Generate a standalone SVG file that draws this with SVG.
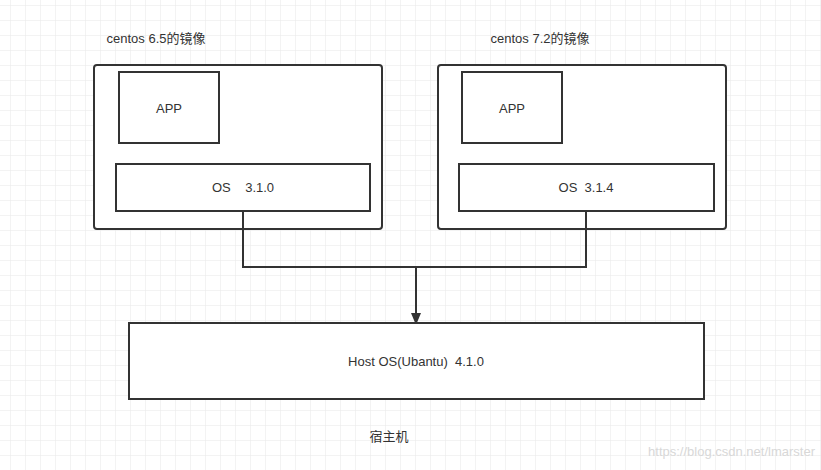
<svg xmlns="http://www.w3.org/2000/svg" width="821" height="470" viewBox="0 0 821 470">
<defs>
<pattern id="grid" x="10" y="5" width="15" height="15" patternUnits="userSpaceOnUse">
<path d="M0 0H15M0 0V15" fill="none" stroke="#e8e8e8" stroke-width="1"/>
</pattern>
<marker id="arr" viewBox="0 0 10 12" refX="9" refY="5" markerWidth="12" markerHeight="12" markerUnits="userSpaceOnUse" orient="auto">
<path d="M0 0L12 5L0 10Z" fill="#333"/>
</marker>
</defs>
<style>
.b{fill:#fff;stroke:#333;stroke-width:2}
.t{font-family:"Liberation Sans","Noto Sans CJK SC",sans-serif;font-size:13px;fill:#333;text-anchor:middle}
.l{fill:none;stroke:#333;stroke-width:2}
</style>
<rect width="821" height="470" fill="#fff"/>
<rect width="821" height="470" fill="url(#grid)"/>
<g id="img1">
<text class="t" x="156" y="43">centos 6.5的镜像</text>
<rect class="b" x="94" y="65" width="288" height="164" rx="3"/>
</g>
<g id="app1"><rect class="b" x="119" y="72" width="100" height="71"/><text class="t" x="169" y="113">APP</text></g>
<g id="os1"><rect class="b" x="116" y="164" width="254" height="47"/><text class="t" x="243" y="192" xml:space="preserve">OS    3.1.0</text></g>
<g id="img2">
<text class="t" x="540" y="43">centos 7.2的镜像</text>
<rect class="b" x="438" y="65" width="288" height="164" rx="3"/>
</g>
<g id="app2"><rect class="b" x="462" y="72" width="100" height="71"/><text class="t" x="512" y="113">APP</text></g>
<g id="os2"><rect class="b" x="459" y="164" width="255" height="47"/><text class="t" x="586" y="192" xml:space="preserve">OS  3.1.4</text></g>
<g id="connectors">
<path class="l" d="M243 211V267H586V211"/>
<path class="l" d="M416 267V322" marker-end="url(#arr)"/>
</g>
<g id="host"><rect class="b" x="129" y="323" width="575" height="76"/><text class="t" x="416" y="366" xml:space="preserve">Host OS(Ubantu)  4.1.0</text></g>
<g id="label"><text class="t" x="389" y="441">宿主机</text></g>
<text x="815" y="456" style="font-family:'Liberation Sans',sans-serif;font-size:13px;fill:#d8d8d8;text-anchor:end">https://blog.csdn.net/lmarster</text>
</svg>
